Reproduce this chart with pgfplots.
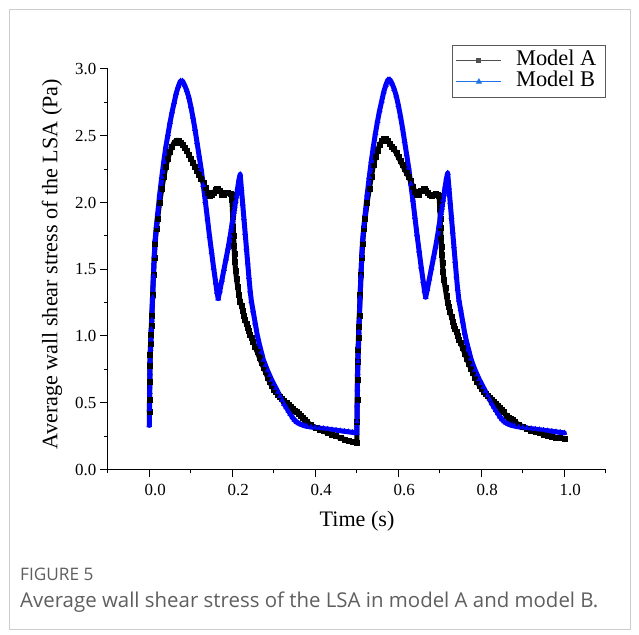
\documentclass[border=0pt]{standalone}
\usepackage{fontspec}
\setmainfont{Liberation Serif}
\newfontfamily\capfont{Open Sans}
\usepackage{pgfplots}
\pgfplotsset{compat=1.18}
\usepackage{pgfplotstable}
\definecolor{legA}{RGB}{80,80,80}
\definecolor{legB}{RGB}{30,115,235}
\definecolor{capgray}{RGB}{95,95,95}
\definecolor{framegray}{RGB}{205,205,205}

\pgfplotstableread{
t A B
0.0000 0.43 0.33
0.0005 0.52 0.45
0.0010 0.66 0.58
0.0015 0.78 0.72
0.0020 0.86 0.81
0.0030 0.94 0.90
0.0040 1.01 0.97
0.0050 1.08 1.05
0.0060 1.15 1.12
0.0080 1.31 1.29
0.0100 1.46 1.45
0.0120 1.59 1.60
0.0140 1.69 1.72
0.0170 1.80 1.82
0.0200 1.88 1.91
0.0250 2.00 2.06
0.0300 2.10 2.19
0.0350 2.19 2.31
0.0400 2.27 2.42
0.0450 2.33 2.51
0.0500 2.38 2.60
0.0550 2.42 2.68
0.0600 2.45 2.75
0.0650 2.465 2.82
0.0700 2.465 2.87
0.0750 2.45 2.91
0.0800 2.43 2.91
0.0850 2.41 2.88
0.0900 2.39 2.84
0.0950 2.36 2.79
0.1000 2.33 2.72
0.1050 2.30 2.64
0.1100 2.27 2.55
0.1150 2.24 2.45
0.1200 2.21 2.35
0.1250 2.18 2.25
0.1300 2.15 2.13
0.1350 2.11 2.01
0.1400 2.07 1.88
0.1450 2.05 1.75
0.1500 2.055 1.63
0.1550 2.075 1.51
0.1600 2.095 1.40
0.1630 2.10 1.33
0.1660 2.10 1.28
0.1700 2.085 1.34
0.1750 2.06 1.42
0.1800 2.055 1.50
0.1850 2.07 1.58
0.1900 2.075 1.66
0.1950 2.065 1.75
0.1980 2.06 1.81
0.1990 2.02 1.83
0.2000 1.96 1.85
0.2010 1.89 1.87
0.2020 1.82 1.89
0.2030 1.75 1.91
0.2040 1.68 1.93
0.2050 1.62 1.95
0.2060 1.56 1.97
0.2080 1.49 2.01
0.2100 1.43 2.05
0.2130 1.37 2.11
0.2160 1.31 2.17
0.2190 1.26 2.21
0.2220 1.23 2.10
0.2250 1.19 1.99
0.2280 1.155 1.88
0.2310 1.12 1.77
0.2340 1.09 1.66
0.2370 1.065 1.55
0.2400 1.04 1.44
0.2430 1.01 1.34
0.2460 0.985 1.26
0.2500 0.96 1.19
0.2550 0.92 1.10
0.2600 0.88 1.01
0.2650 0.84 0.94
0.2700 0.80 0.88
0.2750 0.765 0.82
0.2800 0.73 0.78
0.2850 0.69 0.74
0.2900 0.655 0.705
0.2950 0.625 0.67
0.3000 0.60 0.64
0.3050 0.58 0.61
0.3100 0.56 0.58
0.3150 0.545 0.55
0.3200 0.53 0.52
0.3250 0.515 0.49
0.3300 0.50 0.465
0.3350 0.485 0.44
0.3400 0.47 0.415
0.3450 0.455 0.39
0.3500 0.44 0.37
0.3550 0.43 0.355
0.3600 0.415 0.345
0.3650 0.40 0.338
0.3700 0.39 0.332
0.3750 0.375 0.327
0.3800 0.355 0.323
0.3900 0.333 0.318
0.4000 0.315 0.314
0.4100 0.30 0.31
0.4200 0.287 0.306
0.4300 0.274 0.302
0.4400 0.262 0.298
0.4500 0.25 0.294
0.4600 0.238 0.29
0.4700 0.226 0.286
0.4800 0.215 0.282
0.4900 0.205 0.278
0.5000 0.197 0.274
0.5005 0.36 0.36
0.5010 0.52 0.48
0.5015 0.67 0.60
0.5020 0.81 0.72
0.5030 0.90 0.81
0.5040 0.99 0.92
0.5050 1.07 1.03
0.5060 1.15 1.12
0.5080 1.31 1.29
0.5100 1.46 1.45
0.5120 1.59 1.60
0.5140 1.69 1.72
0.5170 1.80 1.82
0.5200 1.88 1.91
0.5250 2.00 2.06
0.5300 2.10 2.19
0.5350 2.19 2.31
0.5400 2.28 2.42
0.5450 2.34 2.52
0.5500 2.39 2.61
0.5550 2.43 2.69
0.5600 2.46 2.76
0.5650 2.475 2.83
0.5700 2.475 2.88
0.5750 2.46 2.92
0.5800 2.44 2.92
0.5850 2.42 2.89
0.5900 2.40 2.85
0.5950 2.37 2.80
0.6000 2.34 2.73
0.6050 2.31 2.65
0.6100 2.28 2.56
0.6150 2.25 2.46
0.6200 2.22 2.36
0.6250 2.19 2.26
0.6300 2.16 2.14
0.6350 2.12 2.02
0.6400 2.08 1.89
0.6450 2.055 1.76
0.6500 2.06 1.64
0.6550 2.085 1.52
0.6600 2.10 1.41
0.6630 2.10 1.34
0.6660 2.09 1.29
0.6700 2.075 1.35
0.6750 2.055 1.43
0.6800 2.05 1.51
0.6850 2.06 1.59
0.6900 2.065 1.67
0.6950 2.055 1.76
0.6980 2.05 1.82
0.6990 2.01 1.84
0.7000 1.95 1.86
0.7010 1.88 1.88
0.7020 1.81 1.90
0.7030 1.74 1.92
0.7040 1.67 1.94
0.7050 1.61 1.96
0.7060 1.55 1.98
0.7080 1.48 2.02
0.7100 1.42 2.06
0.7130 1.36 2.12
0.7160 1.30 2.18
0.7190 1.25 2.22
0.7220 1.22 2.11
0.7250 1.18 2.00
0.7280 1.145 1.89
0.7310 1.11 1.78
0.7340 1.08 1.67
0.7370 1.055 1.56
0.7400 1.03 1.45
0.7430 1.00 1.35
0.7460 0.975 1.27
0.7500 0.95 1.20
0.7550 0.91 1.11
0.7600 0.87 1.02
0.7650 0.83 0.95
0.7700 0.79 0.89
0.7750 0.755 0.83
0.7800 0.725 0.785
0.7850 0.69 0.745
0.7900 0.66 0.71
0.7950 0.63 0.675
0.8000 0.605 0.645
0.8050 0.585 0.615
0.8100 0.565 0.585
0.8150 0.55 0.555
0.8200 0.535 0.525
0.8250 0.52 0.495
0.8300 0.505 0.47
0.8350 0.49 0.445
0.8400 0.475 0.42
0.8450 0.46 0.395
0.8500 0.445 0.375
0.8550 0.43 0.36
0.8600 0.40 0.348
0.8650 0.39 0.34
0.8700 0.38 0.334
0.8750 0.37 0.329
0.8800 0.357 0.325
0.8900 0.337 0.319
0.9000 0.32 0.314
0.9100 0.306 0.31
0.9200 0.294 0.306
0.9300 0.283 0.302
0.9400 0.272 0.298
0.9500 0.263 0.294
0.9600 0.255 0.29
0.9700 0.248 0.286
0.9800 0.241 0.282
0.9900 0.235 0.278
1.0000 0.23 0.274
}\wss

\begin{document}
\begin{tikzpicture}[x=1bp,y=1bp]
\useasboundingbox (0,0) rectangle (639,635);
\fill[white] (0,0) rectangle (639,635);
\draw[framegray, line width=0.8bp] (9,6) rectangle (630,626);
\begin{axis}[
  at={(107.8bp,165.5bp)}, anchor=south west,
  scale only axis, width=498bp, height=400.5bp,
  xmin=-0.1, xmax=1.1, ymin=0, ymax=3,
  axis lines=left, axis line style={-, line width=1.1bp},
  tick align=outside, major tick length=8bp, minor tick length=4bp,
  tick style={line width=1bp, black},
  xtick={0,0.2,0.4,0.6,0.8,1.0}, xticklabels={0.0,0.2,0.4,0.6,0.8,1.0},
  minor xtick={-0.1,0.1,0.3,0.5,0.7,0.9,1.1},
  ytick={0,0.5,1,1.5,2,2.5,3}, yticklabels={0.0,0.5,1.0,1.5,2.0,2.5,3.0},
  minor ytick={0.25,0.75,1.25,1.75,2.25,2.75},
  ticklabel style={font=\fontsize{17}{17}\selectfont},
  xticklabel style={xshift=6bp, yshift=-3bp},
  xlabel={Time (s)}, ylabel={Average wall shear stress of the LSA (Pa)},
  label style={font=\fontsize{22.2}{23}\selectfont},
  xlabel style={at={(axis description cs:0.5004,-0.1286)}, anchor=center},
  ylabel style={at={(axis description cs:-0.112,0.513)}, anchor=center},
  legend image code/.code={\draw[mark repeat=2, mark phase=2, #1] plot coordinates {(0bp,0bp) (22.5bp,0bp) (45bp,0bp)};},
  legend cell align=left,
  legend style={at={(axis description cs:1,1.06)}, anchor=north east,
    draw=black!65, line width=0.8bp, font=\fontsize{22.5}{23}\selectfont,
    inner xsep=3bp, inner ysep=4.5bp,
    nodes={inner xsep=0bp, inner ysep=0bp, text height=15.5bp, text depth=5.8bp},
    row sep=0bp,
    /tikz/every odd column/.append style={column sep=14bp}},
]
\addplot[black, line width=5bp, line join=round, line cap=round, forget plot] table[x=t,y=A]{\wss};
\addplot[only marks, mark=square*, mark size=2.5bp, black, forget plot] table[x=t,y=A]{\wss};
\addplot[blue, line width=5bp, line join=round, line cap=round, forget plot] table[x=t,y=B]{\wss};
\addplot[only marks, mark=triangle*, mark size=3bp, blue, forget plot] table[x=t,y=B]{\wss};
\addlegendimage{legA, line width=1.3bp, mark=square*, mark size=1.8bp, mark options={solid}}
\addlegendentry{Model A\hspace*{6bp}}
\addlegendimage{legB, line width=1.3bp, mark=triangle*, mark size=2.4bp, mark options={solid}}
\addlegendentry{Model B\hspace*{6bp}}
\end{axis}
\node[anchor=base west, font=\capfont\fontsize{17.3}{17}\selectfont, text=capgray, inner sep=0] at (20,54) {FIGURE 5};
\node[anchor=base west, font=\capfont\fontsize{20.5}{21}\selectfont, text=capgray, inner sep=0] at (20,27) {Average wall shear stress of the LSA in model A and model B.};
\end{tikzpicture}
\end{document}
